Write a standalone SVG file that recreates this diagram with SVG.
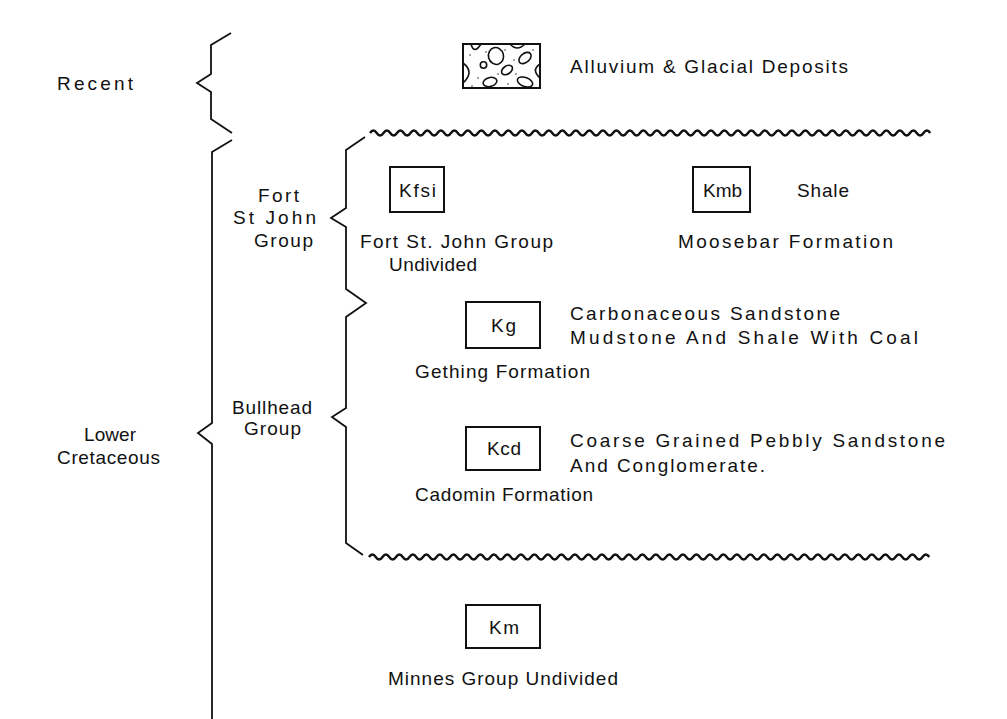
<svg xmlns="http://www.w3.org/2000/svg" width="1007" height="719" viewBox="0 0 1007 719">
<style>
.t{font-family:"Liberation Sans",Arial,sans-serif;font-size:19px;fill:#111}
.c{text-anchor:middle}
.br{fill:none;stroke:#111;stroke-width:1.8;stroke-linejoin:miter}
.wv{fill:none;stroke:#111;stroke-width:2.4}
.bx{fill:#fff;stroke:#111;stroke-width:2}
.pb{fill:none;stroke:#111;stroke-width:1.6}
.dot{fill:#333}
</style>
<rect width="1007" height="719" fill="#fff"/>

<g id="connectors">
  <path class="br" d="M231,33 L211,45 L211,74 L197,83 L211,92 L211,119 L232,133"/>
  <path class="br" d="M232,140 L212,152 L212,423 L198,433 L212,444 L212,719"/>
  <path class="br" d="M365,137 L346,150 L346,208 L331,218 L346,227 L346,289 L366,303 L346,317 L346,408 L332,417 L346,427 L346,543 L363,555"/>
  <path class="wv" d="M370,133 q3.375,-5 6.75,0 t6.75,0 t6.75,0 t6.75,0 t6.75,0 t6.75,0 t6.75,0 t6.75,0 t6.75,0 t6.75,0 t6.75,0 t6.75,0 t6.75,0 t6.75,0 t6.75,0 t6.75,0 t6.75,0 t6.75,0 t6.75,0 t6.75,0 t6.75,0 t6.75,0 t6.75,0 t6.75,0 t6.75,0 t6.75,0 t6.75,0 t6.75,0 t6.75,0 t6.75,0 t6.75,0 t6.75,0 t6.75,0 t6.75,0 t6.75,0 t6.75,0 t6.75,0 t6.75,0 t6.75,0 t6.75,0 t6.75,0 t6.75,0 t6.75,0 t6.75,0 t6.75,0 t6.75,0 t6.75,0 t6.75,0 t6.75,0 t6.75,0 t6.75,0 t6.75,0 t6.75,0 t6.75,0 t6.75,0 t6.75,0 t6.75,0 t6.75,0 t6.75,0 t6.75,0 t6.75,0 t6.75,0 t6.75,0 t6.75,0 t6.75,0 t6.75,0 t6.75,0 t6.75,0 t6.75,0 t6.75,0 t6.75,0 t6.75,0 t6.75,0 t6.75,0 t6.75,0 t6.75,0 t6.75,0 t6.75,0 t6.75,0 t6.75,0 t6.75,0 t6.75,0 t6.75,0"/>
  <path class="wv" d="M369,557 q3.375,-5 6.75,0 t6.75,0 t6.75,0 t6.75,0 t6.75,0 t6.75,0 t6.75,0 t6.75,0 t6.75,0 t6.75,0 t6.75,0 t6.75,0 t6.75,0 t6.75,0 t6.75,0 t6.75,0 t6.75,0 t6.75,0 t6.75,0 t6.75,0 t6.75,0 t6.75,0 t6.75,0 t6.75,0 t6.75,0 t6.75,0 t6.75,0 t6.75,0 t6.75,0 t6.75,0 t6.75,0 t6.75,0 t6.75,0 t6.75,0 t6.75,0 t6.75,0 t6.75,0 t6.75,0 t6.75,0 t6.75,0 t6.75,0 t6.75,0 t6.75,0 t6.75,0 t6.75,0 t6.75,0 t6.75,0 t6.75,0 t6.75,0 t6.75,0 t6.75,0 t6.75,0 t6.75,0 t6.75,0 t6.75,0 t6.75,0 t6.75,0 t6.75,0 t6.75,0 t6.75,0 t6.75,0 t6.75,0 t6.75,0 t6.75,0 t6.75,0 t6.75,0 t6.75,0 t6.75,0 t6.75,0 t6.75,0 t6.75,0 t6.75,0 t6.75,0 t6.75,0 t6.75,0 t6.75,0 t6.75,0 t6.75,0 t6.75,0 t6.75,0 t6.75,0 t6.75,0 t6.75,0"/>
</g>

<g id="labels-age">
  <text class="t" x="57" y="90" textLength="76" lengthAdjust="spacing">Recent</text>
  <text class="t" x="84" y="441" textLength="52" lengthAdjust="spacing">Lower</text>
  <text class="t" x="57" y="464" textLength="103" lengthAdjust="spacing">Cretaceous</text>
</g>

<g id="labels-groups">
  <text class="t" x="258" y="202" textLength="41" lengthAdjust="spacing">Fort</text>
  <text class="t" x="233" y="224" textLength="83" lengthAdjust="spacing">St John</text>
  <text class="t" x="254" y="247" textLength="59" lengthAdjust="spacing">Group</text>
  <text class="t" x="232" y="414" textLength="80" lengthAdjust="spacing">Bullhead</text>
  <text class="t" x="244" y="435" textLength="57" lengthAdjust="spacing">Group</text>
</g>

<g id="node-alluvium">
  <rect class="bx" x="463" y="44" width="77" height="44"/>
  <path class="pb" d="M463,63 Q475,72 463,83"/>
  <path class="pb" d="M471,44 Q474,55 481,44"/>
  <ellipse class="pb" cx="496" cy="56" rx="7.5" ry="8.5" transform="rotate(-15 496 56)"/>
  <circle class="pb" cx="483.5" cy="65" r="3.2"/>
  <path class="pb" d="M510,44 Q517,52 525,44"/>
  <ellipse class="pb" cx="525" cy="58" rx="7" ry="4.5" transform="rotate(-40 525 58)"/>
  <ellipse class="pb" cx="507" cy="70" rx="6" ry="4" transform="rotate(-35 507 70)"/>
  <path class="pb" d="M540,64 Q531,70 540,78"/>
  <ellipse class="pb" cx="490" cy="82" rx="7" ry="4.5" transform="rotate(-15 490 82)"/>
  <ellipse class="pb" cx="525" cy="82" rx="8" ry="4.5" transform="rotate(20 525 82)"/>
  <circle class="dot" cx="470" cy="55" r="0.8"/>
  <circle class="dot" cx="478" cy="78" r="0.8"/>
  <circle class="dot" cx="486" cy="52" r="0.8"/>
  <circle class="dot" cx="498" cy="74" r="0.8"/>
  <circle class="dot" cx="505" cy="50" r="0.8"/>
  <circle class="dot" cx="514" cy="60" r="0.8"/>
  <circle class="dot" cx="516" cy="74" r="0.8"/>
  <circle class="dot" cx="533" cy="50" r="0.8"/>
  <circle class="dot" cx="472" cy="86" r="0.8"/>
  <circle class="dot" cx="508" cy="84" r="0.8"/>
  <circle class="dot" cx="535" cy="70" r="0.8"/>
  <text class="t" x="570" y="73" textLength="278" lengthAdjust="spacing">Alluvium &amp; Glacial Deposits</text>
</g>

<g id="node-kfsi">
  <rect class="bx" x="390" y="167" width="54" height="45"/>
  <text class="t" x="399" y="197" textLength="37" lengthAdjust="spacing">Kfsi</text>
  <text class="t" x="360" y="248" textLength="193" lengthAdjust="spacing">Fort St. John Group</text>
  <text class="t" x="389" y="271" textLength="88" lengthAdjust="spacing">Undivided</text>
</g>

<g id="node-kmb">
  <rect class="bx" x="693" y="167" width="57" height="45"/>
  <text class="t" x="703" y="197" textLength="39" lengthAdjust="spacing">Kmb</text>
  <text class="t" x="797" y="197" textLength="52" lengthAdjust="spacing">Shale</text>
  <text class="t" x="678" y="248" textLength="215" lengthAdjust="spacing">Moosebar Formation</text>
</g>

<g id="node-kg">
  <rect class="bx" x="466" y="302" width="74" height="46"/>
  <text class="t" x="491" y="332" textLength="25" lengthAdjust="spacing">Kg</text>
  <text class="t" x="570" y="320" textLength="270" lengthAdjust="spacing">Carbonaceous  Sandstone</text>
  <text class="t" x="570" y="344" textLength="348" lengthAdjust="spacing">Mudstone And Shale With Coal</text>
  <text class="t" x="415" y="378" textLength="175" lengthAdjust="spacing">Gething Formation</text>
</g>

<g id="node-kcd">
  <rect class="bx" x="466" y="427" width="74" height="43"/>
  <text class="t" x="487" y="455" textLength="34" lengthAdjust="spacing">Kcd</text>
  <text class="t" x="570" y="447" textLength="375" lengthAdjust="spacing">Coarse Grained Pebbly Sandstone</text>
  <text class="t" x="570" y="472" textLength="195" lengthAdjust="spacing">And Conglomerate.</text>
  <text class="t" x="415" y="501" textLength="178" lengthAdjust="spacing">Cadomin Formation</text>
</g>

<g id="node-km">
  <rect class="bx" x="466" y="605" width="74" height="43"/>
  <text class="t" x="489" y="634" textLength="30" lengthAdjust="spacing">Km</text>
  <text class="t" x="388" y="685" textLength="230" lengthAdjust="spacing">Minnes Group Undivided</text>
</g>
</svg>
